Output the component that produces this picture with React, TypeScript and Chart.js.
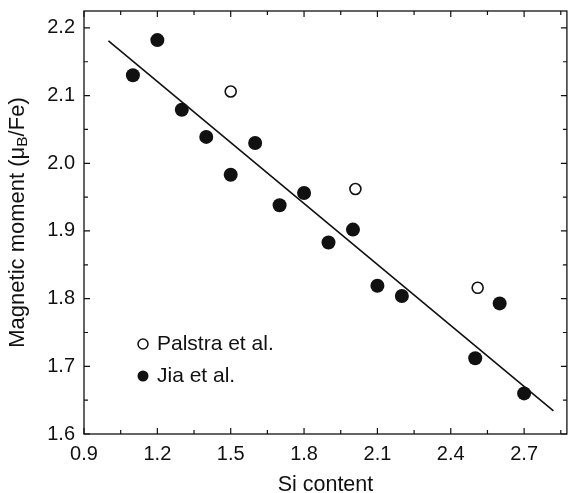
import React, { useEffect, useRef } from "react";
import { Chart, registerables } from "chart.js";

Chart.register(...registerables);

// ---- data ----
const jiaX = [1.1, 1.2, 1.3, 1.4, 1.5, 1.6, 1.7, 1.8, 1.9, 2.0, 2.1, 2.2, 2.5, 2.6, 2.7];
const jiaY = [2.13, 2.182, 2.079, 2.039, 1.983, 2.03, 1.938, 1.956, 1.883, 1.902, 1.819, 1.804, 1.712, 1.793, 1.66];
const palstraX = [1.5, 2.01, 2.51];
const palstraY = [2.106, 1.962, 1.816];
const fitX = [1.0, 2.82];
const fitY = [2.181, 1.634];

const xTicks = [0.9, 1.2, 1.5, 1.8, 2.1, 2.4, 2.7];
const yTicks = [1.6, 1.7, 1.8, 1.9, 2.0, 2.1, 2.2];
const xMinorStep = 0.15;
const yMinorStep = 0.05;
const xMin = 0.9, xMax = 2.875;
const yMin = 1.6, yMax = 2.225;

const legendLabels = ["Palstra et al.", "Jia et al."];
const xTitle = "Si content";
const yTitleParts = ["Magnetic moment (\u03bc", "B", "/Fe)"];

const FONT = "'Liberation Sans', Arial, Helvetica, sans-serif";

const decorPlugin = {
  id: "decor",
  afterDraw(chart: any) {
    const ctx = chart.ctx as CanvasRenderingContext2D;
    const { left, right, top, bottom } = chart.chartArea;
    const xs = chart.scales.x;
    const ys = chart.scales.y;
    ctx.save();
    ctx.strokeStyle = "#111";
    ctx.lineWidth = 1.3;
    ctx.strokeRect(left, top, right - left, bottom - top);

    const major = 6, minor = 4;
    ctx.lineWidth = 1.2;
    ctx.beginPath();
    xTicks.forEach((v) => {
      const p = xs.getPixelForValue(v);
      ctx.moveTo(p, bottom); ctx.lineTo(p, bottom - major);
      ctx.moveTo(p, top); ctx.lineTo(p, top + major);
      const m = v + xMinorStep;
      if (m < xMax) {
        const q = xs.getPixelForValue(m);
        ctx.moveTo(q, bottom); ctx.lineTo(q, bottom - minor);
        ctx.moveTo(q, top); ctx.lineTo(q, top + minor);
      }
    });
    yTicks.forEach((v) => {
      const p = ys.getPixelForValue(v);
      ctx.moveTo(left, p); ctx.lineTo(left + major, p);
      ctx.moveTo(right, p); ctx.lineTo(right - major, p);
      const m = v + yMinorStep;
      if (m < yMax) {
        const q = ys.getPixelForValue(m);
        ctx.moveTo(left, q); ctx.lineTo(left + minor, q);
        ctx.moveTo(right, q); ctx.lineTo(right - minor, q);
      }
    });
    ctx.stroke();

    // legend
    ctx.fillStyle = "#111";
    ctx.font = `21px ${FONT}`;
    ctx.textBaseline = "middle";
    ctx.textAlign = "left";
    ctx.beginPath();
    ctx.lineWidth = 1.5;
    ctx.arc(143, 344, 5, 0, Math.PI * 2);
    ctx.stroke();
    ctx.fillText(legendLabels[0], 157, 344);
    ctx.beginPath();
    ctx.arc(143, 376, 5.5, 0, Math.PI * 2);
    ctx.fill();
    ctx.fillText(legendLabels[1], 157, 376);

    // x title
    ctx.font = `21.5px ${FONT}`;
    ctx.textAlign = "center";
    ctx.fillText(xTitle, (left + right) / 2, 485);

    // y title with subscript
    const mainFont = `22px ${FONT}`;
    const subFont = `15.5px ${FONT}`;
    ctx.font = mainFont;
    const w1 = ctx.measureText(yTitleParts[0]).width;
    const w3 = ctx.measureText(yTitleParts[2]).width;
    ctx.font = subFont;
    const w2 = ctx.measureText(yTitleParts[1]).width;
    const total = w1 + w2 + w3;
    ctx.translate(18, (top + bottom) / 2);
    ctx.rotate(-Math.PI / 2);
    ctx.textAlign = "left";
    let x0 = -total / 2;
    ctx.font = mainFont;
    ctx.fillText(yTitleParts[0], x0, 0);
    x0 += w1;
    ctx.font = subFont;
    ctx.fillText(yTitleParts[1], x0, 5);
    x0 += w2;
    ctx.font = mainFont;
    ctx.fillText(yTitleParts[2], x0, 0);
    ctx.restore();
  },
};

export default function App() {
  const ref = useRef<HTMLCanvasElement | null>(null);
  useEffect(() => {
    if (!ref.current) return;
    Chart.defaults.font.family = FONT;
    const chart = new Chart(ref.current, {
      type: "scatter",
      data: {
        datasets: [
          {
            type: "line",
            label: "fit",
            data: fitX.map((x, i) => ({ x, y: fitY[i] })),
            borderColor: "#111",
            borderWidth: 1.6,
            pointRadius: 0,
            fill: false,
            order: 3,
          } as any,
          {
            label: legendLabels[1],
            data: jiaX.map((x, i) => ({ x, y: jiaY[i] })),
            backgroundColor: "#111",
            borderColor: "#111",
            pointRadius: 7,
            pointBorderWidth: 0,
            order: 1,
          },
          {
            label: legendLabels[0],
            data: palstraX.map((x, i) => ({ x, y: palstraY[i] })),
            backgroundColor: "#fff",
            borderColor: "#111",
            pointRadius: 5.5,
            pointBorderWidth: 1.6,
            order: 2,
          },
        ],
      },
      options: {
        responsive: false,
        animation: false,
        layout: { padding: { top: 11, right: 2, left: 0, bottom: 0 } },
        plugins: { legend: { display: false }, tooltip: { enabled: false } },
        scales: {
          x: {
            type: "linear",
            min: xMin,
            max: xMax,
            grid: { display: false, drawTicks: false },
            border: { display: false },
            afterBuildTicks: (s: any) => {
              s.ticks = xTicks.map((v) => ({ value: v }));
            },
            afterFit: (s: any) => {
              s.height = 59;
              s.paddingLeft = 0;
              s.paddingRight = 0;
            },
            ticks: {
              color: "#111",
              font: { size: 20 },
              padding: 8,
              maxRotation: 0,
              callback: (v: any) => Number(v).toFixed(1),
            },
          },
          y: {
            type: "linear",
            min: yMin,
            max: yMax,
            grid: { display: false, drawTicks: false },
            border: { display: false },
            afterBuildTicks: (s: any) => {
              s.ticks = yTicks.map((v) => ({ value: v }));
            },
            afterFit: (s: any) => {
              s.width = 84;
              s.paddingTop = 0;
              s.paddingBottom = 0;
            },
            ticks: {
              color: "#111",
              font: { size: 20 },
              padding: 9,
              callback: (v: any) => Number(v).toFixed(1),
            },
          },
        },
      },
      plugins: [decorPlugin],
    });
    return () => chart.destroy();
  }, []);
  return (
    <div style={{ position: "fixed", left: 0, top: 0, width: 574, height: 493, background: "#fff" }}>
      <canvas ref={ref} width={574} height={493} style={{ width: 574, height: 493 }} />
    </div>
  );
}
